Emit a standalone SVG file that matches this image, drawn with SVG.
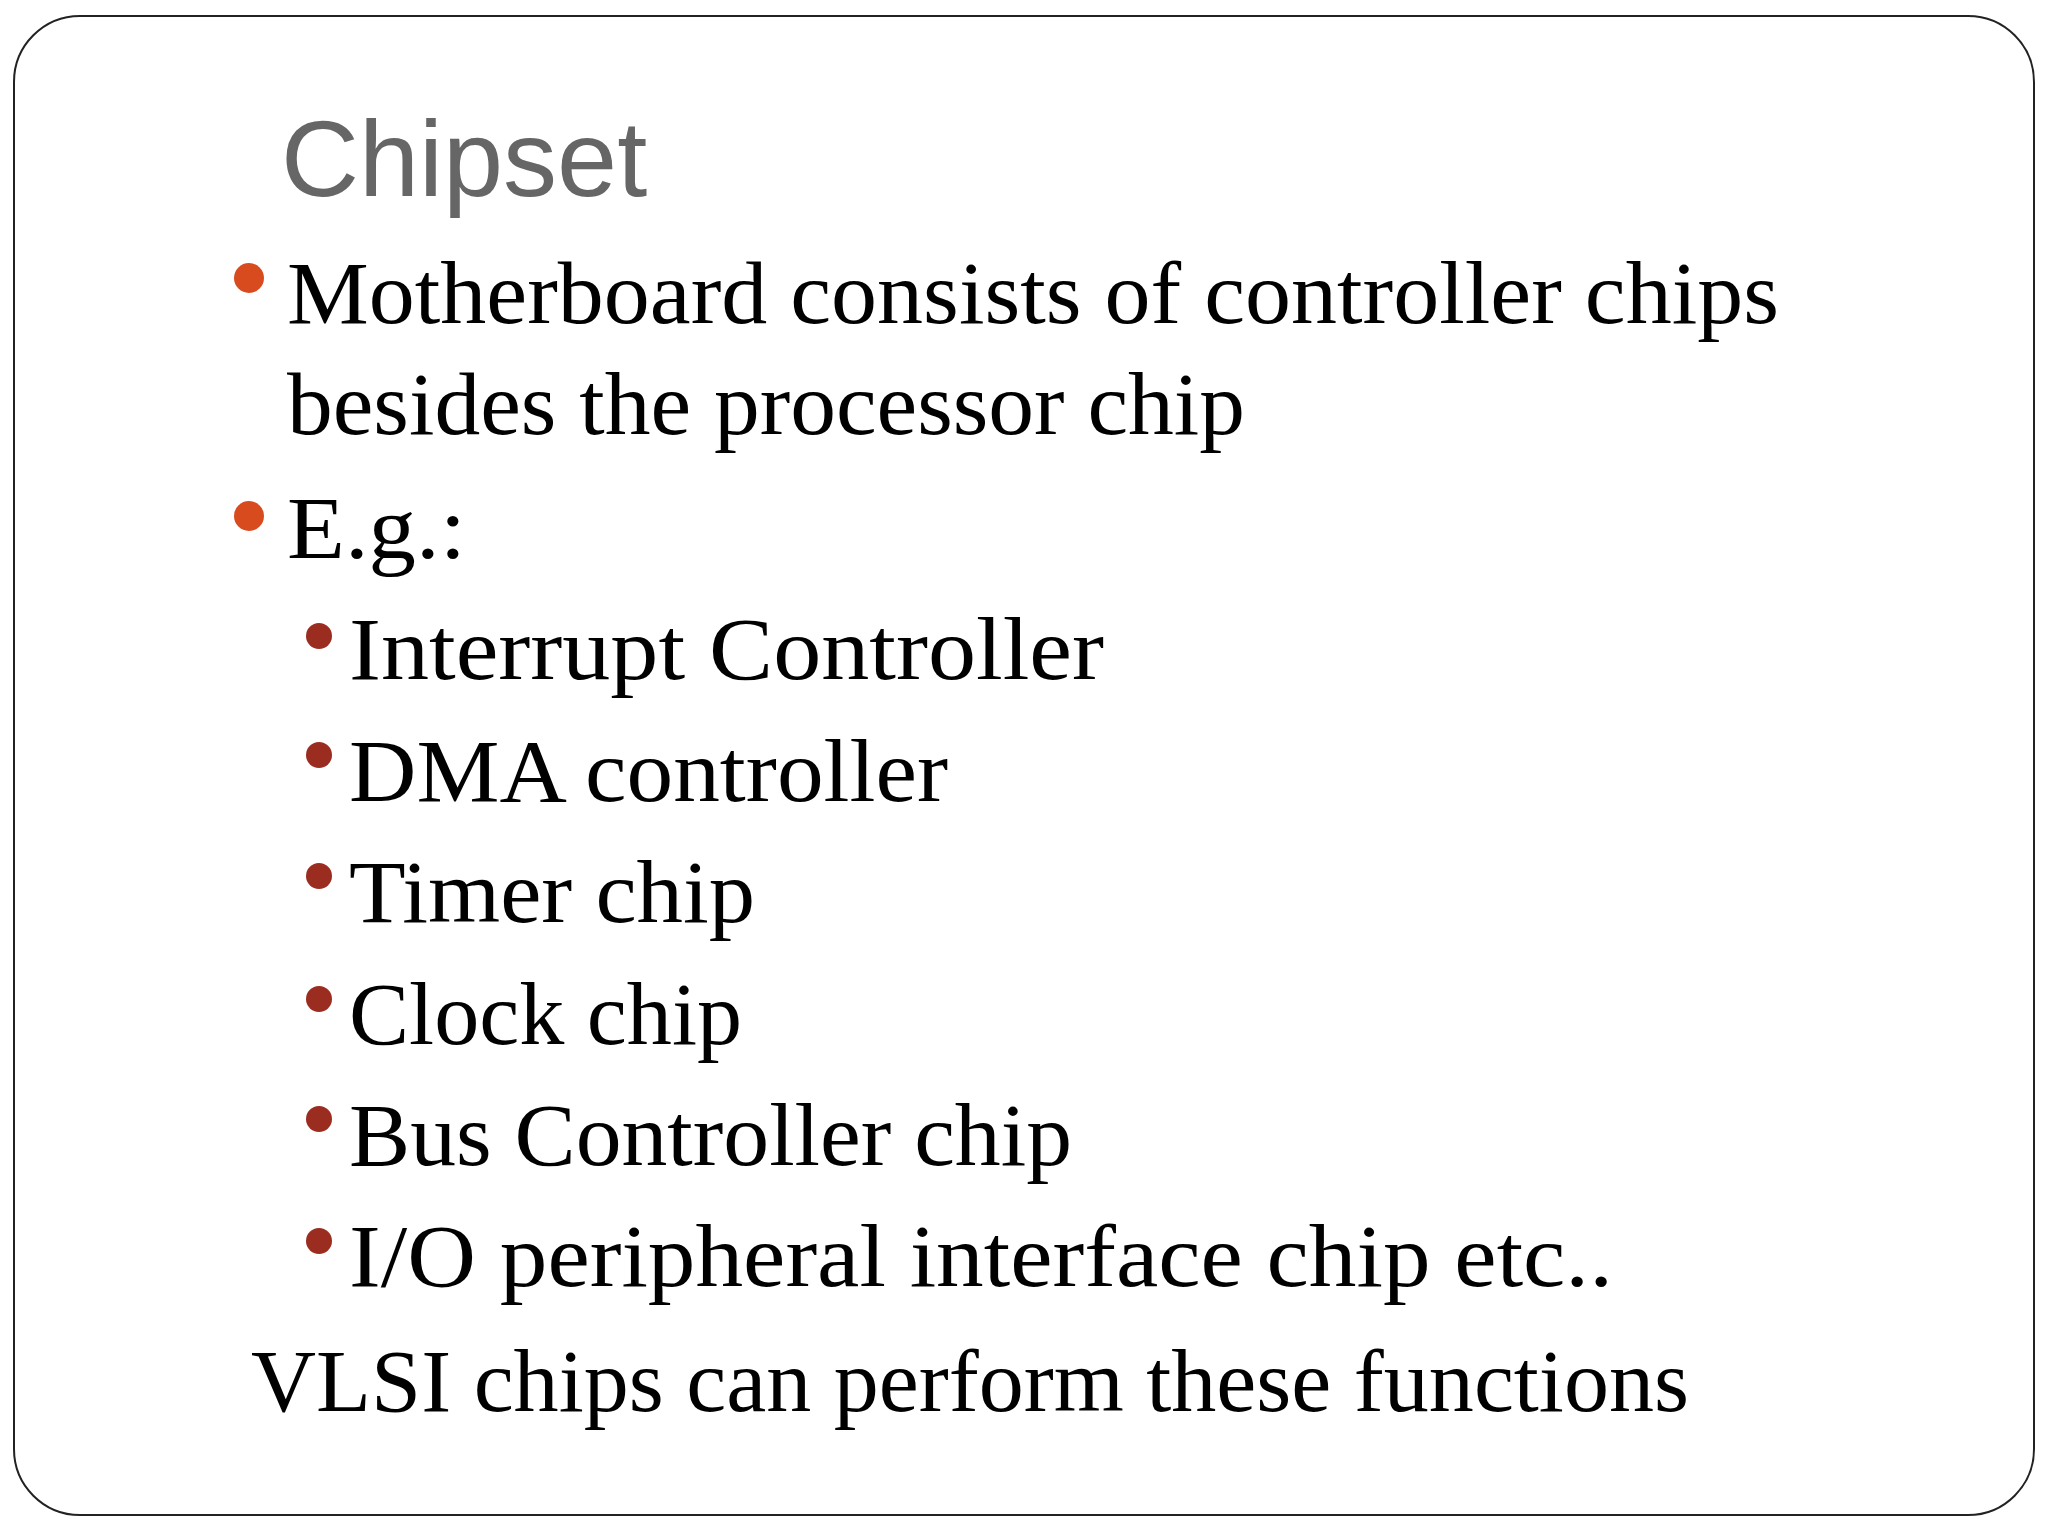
<svg xmlns="http://www.w3.org/2000/svg" width="2048" height="1536" viewBox="0 0 2048 1536">
<style>
.b{font-family:"Liberation Serif",serif;font-size:88px;fill:#000}
.o{fill:#D84B1E}.r{fill:#9B2D20}
</style>
<rect x="0" y="0" width="2048" height="1536" fill="#fff"/>
<rect x="14" y="16" width="2020" height="1499" rx="66" fill="#fff" stroke="#222" stroke-width="2"/>
<text x="281" y="196" font-family="Liberation Sans,Arial,sans-serif" font-size="108" fill="#666">Chipset</text>
<g id="bullets">
<circle class="o" cx="249" cy="278" r="15"/>
<circle class="o" cx="249" cy="516" r="15"/>
<circle class="r" cx="319" cy="636" r="13"/>
<circle class="r" cx="319" cy="755" r="13"/>
<circle class="r" cx="319" cy="876" r="13"/>
<circle class="r" cx="319" cy="999" r="13"/>
<circle class="r" cx="319" cy="1119" r="13"/>
<circle class="r" cx="319" cy="1241" r="13"/>
</g>
<g id="text">
<text class="b" x="287" y="323" textLength="1492" lengthAdjust="spacingAndGlyphs">Motherboard consists of controller chips</text>
<text class="b" x="287" y="434" textLength="958" lengthAdjust="spacingAndGlyphs">besides the processor chip</text>
<text class="b" x="287" y="558" textLength="179" lengthAdjust="spacingAndGlyphs">E.g.:</text>
<text class="b" x="349" y="679" textLength="755" lengthAdjust="spacingAndGlyphs">Interrupt Controller</text>
<text class="b" x="349" y="801" textLength="599" lengthAdjust="spacingAndGlyphs">DMA controller</text>
<text class="b" x="349" y="922" textLength="406" lengthAdjust="spacingAndGlyphs">Timer chip</text>
<text class="b" x="349" y="1044" textLength="393" lengthAdjust="spacingAndGlyphs">Clock chip</text>
<text class="b" x="349" y="1165" textLength="723" lengthAdjust="spacingAndGlyphs">Bus Controller chip</text>
<text class="b" x="349" y="1286" textLength="1264" lengthAdjust="spacingAndGlyphs">I/O peripheral interface chip etc..</text>
<text class="b" x="251" y="1411" textLength="1438" lengthAdjust="spacingAndGlyphs">VLSI chips can perform these functions</text>
</g>
</svg>
